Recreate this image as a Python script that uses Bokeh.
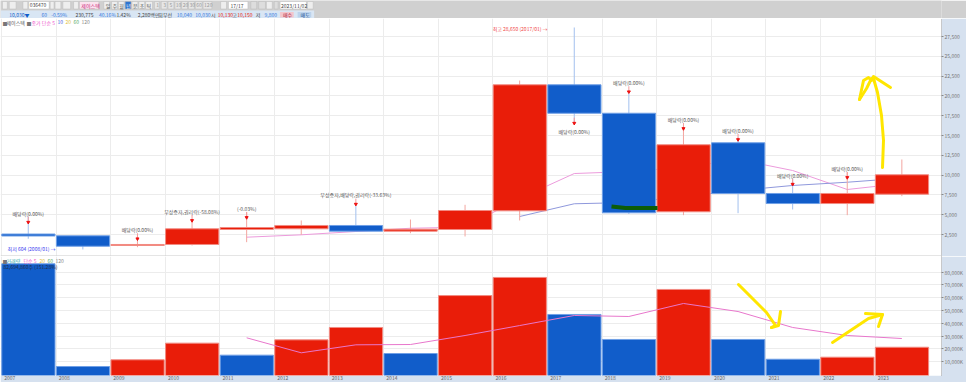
from bokeh.plotting import figure
from bokeh.layouts import column
from bokeh.models import Label, FixedTicker, Range1d, Span, Grid
from bokeh.embed import file_html
from bokeh.resources import INLINE

years = [2007,2008,2009,2010,2011,2012,2013,2014,2015,2016,2017,2018,2019,2020,2021,2022,2023]
opens  = [2560,2335,1110,1240,3130,3220,3640,2920,3130,5490,21400,17810,5370,14080,7680,6410,7590]
closes = [2310,1020,1240,3220,3380,3640,2920,3170,5530,21400,17810,5240,13830,7680,6410,7680,10040]
highs  = [4770,2335,2160,4360,5320,4270,6160,4390,6250,21940,28640,20300,16050,14750,9610,10370,11970]
lows   = [1960,610,900,1110,1530,2460,2920,2660,2250,4270,16640,5100,4940,5190,5660,4940,7340]
volumes = [86600,6100,11360,24400,15000,27000,36700,16300,61700,75900,46900,27300,66500,27300,11800,13400,21200]
vol_up = [0,0,1,1,0,1,1,0,1,1,0,0,1,0,0,1,1]
ma5_years = years[4:]
ma5_price = [2160,2460,2880,3290,3420,7050,10200,10450,10960,11970,10580,8180,8940]
ma20_years = years[9:]
ma20_price = [4770,6380,6540,7300,8050,8690,9100,9610]
ma5_volume = [28600,16850,23100,23350,30400,38200,46100,45300,55500,49200,36700,30400,28050]

notes_year = [2007,2009,2010,2011,2013,2017,2018,2019,2020,2021,2022]
notes_text = ["배당락(0.00%)","배당락(0.00%)","무상증자,권리락(-58.08%)","(-0.03%)","무상증자,배당락,권리락(-33.63%)",
              "배당락(0.00%)","배당락(0.00%)","배당락(0.00%)","배당락(0.00%)","배당락(0.00%)","배당락(0.00%)"]
notes_arrow = [4050,1960,4270,4650,6330,16550,20520,15880,14490,8850,9700]
notes_label = [5190,3090,5440,5750,7510,15540,21690,17020,15670,9990,10830]

price_ticks = [2500,5000,7500,10000,12500,15000,17500,20000,22500,25000,27500]
vol_ticks = [10000,20000,30000,40000,50000,60000,70000,80000]

RED, BLUE = "#e91d09", "#115dca"
RED_E, BLUE_E = "#f28b82", "#6f9fe6"
RED_W, BLUE_W = "#f3a6a0", "#a3c0ee"
GRID = "#ececec"
AXBG = "#d6e1ef"
FONT = "Noto Sans CJK KR"
FS = "5px"

X0, XS = 1.0, 54.6
W, RIGHT = 966, 941
xlo, xhi = (0 - X0) / XS, (RIGHT - X0) / XS
idx = [y - 2007 for y in years]
CEN = 0.49
cen = [i + CEN for i in idx]

# reference-pixel helpers for the annotation layer (hand-drawn strokes, captions)
def px(x): return (x - X0) / XS
def py(y): return (253.8 - y) / 0.00792
def vy(y): return (373.8 - y) / 1.276 * 1000

def make_panel(height, ylo, yhi, ticks, fmt):
    p = figure(frame_width=RIGHT, frame_height=height, x_range=Range1d(xlo, xhi), y_range=Range1d(ylo, yhi),
               output_backend="svg", toolbar_location=None, min_border=0, min_border_right=W-RIGHT,
               border_fill_color=AXBG, background_fill_color="white", outline_line_color=None,
               y_axis_location="right", x_axis_location="below")
    p.grid.visible = False
    p.add_layout(Grid(dimension=1, ticker=FixedTicker(ticks=ticks), grid_line_color=GRID, grid_line_width=1), "center")
    p.add_layout(Grid(dimension=0, ticker=FixedTicker(ticks=idx), grid_line_color=GRID, grid_line_width=1), "center")
    ax = p.yaxis[0]
    ax.ticker = FixedTicker(ticks=ticks)
    ax.major_label_overrides = {t: fmt(t) for t in ticks}
    ax.major_label_text_font = FONT
    ax.major_label_text_font_size = FS
    ax.major_label_text_color = "#777777"
    ax.major_label_standoff = 1
    ax.major_tick_in = 0
    ax.major_tick_out = 2
    ax.major_tick_line_color = "#888888"
    ax.minor_tick_line_color = None
    ax.axis_line_color = "#999999"
    ax.axis_line_dash = "1 1"
    return p

def lab(p, x, y, text, color="#555555", size=FS, align="left", **kw):
    p.add_layout(Label(x=x, y=y, text=text, text_color=color, text_font=FONT, text_font_size=size,
                       text_align=align, text_baseline="middle", **kw))

# ---------- header ----------
h = figure(width=W, height=18, x_range=Range1d(0, W), y_range=Range1d(18, 0), output_backend="svg",
           toolbar_location=None, min_border=0, border_fill_color="#d0d0d0", background_fill_color="#d0d0d0",
           outline_line_color=None, x_axis_location=None, y_axis_location=None)
h.grid.visible = False
h.quad(left=[0], right=[322], top=[10], bottom=[18], fill_color="#d9e6f4", line_color=None)
boxes = [(2,7,"#eeeeee"),(9,16,"#eeeeee"),(23,28,"#eeeeee"),(29,50,"white"),(51,55,"#eeeeee"),(56,62,"#eeeeee"),
         (64,72,"#eeeeee"),(75,80,"#eeeeee"),(81,101,"#fbe3ef"),(106,112,"#eeeeee"),(114,120,"#eeeeee"),(121,127,"#eeeeee"),
         (128,134,"#2f74d0"),(135,141,"#eeeeee"),(142,148,"#eeeeee"),(149,156,"#eeeeee"),
         (158,163,"#e6e6e6"),(165,171,"#e6e6e6"),(172,178,"#e6e6e6"),(179,185,"#e6e6e6"),(186,192,"#e6e6e6"),(193,199,"#e6e6e6"),
         (200,207,"#e6e6e6"),(208,217,"#e6e6e6"),(226,232,"#eeeeee"),(234,254,"white"),(257,263,"#dddddd"),(265,272,"#dddddd"),
         (273,279,"#eeeeee"),(281,285,"#dddddd"),(287,314,"white"),(315,321,"#eeeeee")]
h.quad(left=[b[0] for b in boxes], right=[b[1] for b in boxes], top=[1]*len(boxes), bottom=[8.5]*len(boxes),
       fill_color=[b[2] for b in boxes], line_color="#bbbbbb", line_width=0.5)
h.quad(left=[287,305], right=[301,319], top=[11.5,11.5], bottom=[17,17], fill_color=["#f3c6cc","#bcd3ec"], line_color=None)
row1 = [(30,"036470","#444444"),(83,"제이스텍","#cc2277"),(108,"일","#555555"),(115,"주","#555555"),(122,"월","#555555"),
        (129,"년","white"),(136,"분","#555555"),(143,"초","#555555"),(150,"틱","#555555"),(160,"1","#999999"),(167,"3","#999999"),
        (173.5,"5","#999999"),(180,"10","#999999"),(187,"20","#999999"),(194,"30","#999999"),(201,"60","#999999"),(209,"120","#999999"),
        (236,"17/17","#444444"),(288,"2023/11/02","#444444")]
for x, t, c in row1:
    lab(h, x, 4.5, t, c)
row2 = [(9,"10,030▼",BLUE),(42,"60","#3377dd"),(52,"-0.59%","#3377dd"),(77,"230,775","#444444"),(101,"40.16%","#3377dd"),
        (119,"1.42%","#444444"),(141,"2,280백만","#444444"),(162,"회무선","#444444"),(181,"10,040","#3377dd"),(200,"10,030","#3377dd"),
        (216,"시","#444444"),(223,"10,130",RED),(238,"고","#444444"),(243,"10,150",RED),(262,"저","#444444"),(271,"9,800","#3377dd"),
        (290,"매수","#b02040"),(308,"매도","#205090")]
for x, t, c in row2:
    lab(h, x, 14, t, c)

# ---------- price panel ----------
plo, phi = py(256), py(18)
p = make_panel(238, plo, phi, price_ticks, lambda t: f"{t:,}")
p.xaxis.visible = False

p.line([y - 2007 + CEN for y in ma5_years], ma5_price, line_color="#ec9bdc", line_width=1)
p.line([y - 2007 + CEN for y in ma20_years], ma20_price, line_color="#8f98dc", line_width=1)

up = [c >= o for o, c in zip(opens, closes)]
p.segment(cen, lows, cen, highs, line_color=[RED_W if u else BLUE_W for u in up], line_width=1)
p.quad(left=[i + 0.005 for i in idx], right=[i + 0.98 for i in idx],
       top=[max(o, c) for o, c in zip(opens, closes)], bottom=[min(o, c) for o, c in zip(opens, closes)],
       fill_color=[RED if u else BLUE for u in up], line_color=[RED_E if u else BLUE_E for u in up], line_width=1)

nc = [y - 2007 + CEN for y in notes_year]
p.segment(nc, notes_arrow, nc, [a + 700 for a in notes_arrow], line_color="#f39a9a", line_width=1)
p.scatter(nc, notes_arrow, marker="inverted_triangle", size=3, fill_color="#ee1111", line_color="#ee1111")
for x, val, t in zip(nc, notes_label, notes_text):
    lab(p, x, val, t, "#555555", FS, "center")

lab(p, px(547), 28470, "최고 28,650 (2017/01) →", "#f04848", FS, "right")
lab(p, px(55), 730, "최저 604 (2008/01) →", "#3a3af0", FS, "right")

# dark-green marker stroke and yellow pen strokes
p.line([px(x) for x in (611, 625, 657)], [py(y) for y in (206, 207.5, 207.5)], line_color="#0c5c08", line_width=4)
p.multi_line([[px(x) for x in s] for s in [(882, 883, 881, 877, 873), (859, 863, 868, 871, 873, 890), (859, 866, 871)]],
             [[py(y) for y in s] for s in [(167, 140, 115, 92, 78), (99, 80, 77, 80, 76, 87), (99, 88, 78)]],
             line_color="#ffe600", line_width=3, line_cap="round", line_join="round")

for x, t, c in [(2,"■","#777777"),(6,"제이스텍","#555555"),(26,"■","#777777"),(31,"종가 단순 5","#ee55cc"),(57,"10","#3a55dd"),(65,"20","#e0c040"),(73,"60","#55aa66"),(81,"120","#888888")]:
    lab(p, px(x), py(21.5), t, c)
lab(p, px(941.5), py(20.5), "LC:1398.31", "#e05555")
lab(p, px(941.5), py(26), "HC:-64.09", "#4a80e0")
lab(p, px(946), 10030, "10,030", "white", FS, background_fill_color=RED, padding=(1, 3))
lab(p, px(944), py(179), "29.58%", "#f07070")
p.add_layout(Span(location=plo, dimension="width", line_color="#cccccc", line_width=2))

# ---------- volume panel ----------
vlo, vhi = vy(375), vy(256)
v = make_panel(119, vlo, vhi, vol_ticks, lambda t: f"{t:,}K")
v.quad(left=[i + 0.005 for i in idx], right=[i + 0.98 for i in idx], top=volumes, bottom=[vlo]*len(volumes),
       fill_color=[RED if u else BLUE for u in vol_up], line_color=[RED_E if u else BLUE_E for u in vol_up], line_width=1)
v.line([y - 2007 + CEN for y in ma5_years], ma5_volume, line_color="#e877cc", line_width=1)
v.multi_line([[px(x) for x in s] for s in [(738, 752, 766, 775, 771), (780, 778, 771), (832, 850, 868, 882), (865, 882, 878)]],
             [[vy(y) for y in s] for s in [(284, 298, 312, 325, 327), (311, 325, 327), (342, 330, 318, 314), (313, 314, 326)]],
             line_color="#ffe600", line_width=3, line_cap="round", line_join="round")
xa = v.xaxis[0]
xa.ticker = FixedTicker(ticks=[i + 0.15 for i in idx])
xa.major_label_overrides = {i + 0.15: str(y) for i, y in zip(idx, years)}
xa.major_label_text_font = FONT
xa.major_label_text_font_size = FS
xa.major_label_text_color = "#666666"
xa.major_label_standoff = 0
xa.major_tick_in = 0
xa.major_tick_out = 0
xa.minor_tick_line_color = None
xa.axis_line_color = None
for x, t, c in [(2,"■","#777777"),(6,"거래량","#33aaaa"),(23,"단순 5","#ee55cc"),(39,"20","#e0c040"),(47,"60","#55aa66"),(55,"120","#888888")]:
    lab(v, px(x), vy(260), t, c)
lab(v, px(3), vy(265.5), "82,694,860주 (151.28%)", "#22304a")
lab(v, px(946), vy(346), "22,028K", "white", FS, background_fill_color=RED, padding=(1, 3))
lab(v, px(944), vy(351.5), "151.28%", "#f07070")
lab(v, px(944), vy(378.5), "01/02", "#666666")

page = column(h, p, v, spacing=0)
html = file_html(page, INLINE).replace("<head>", "<head><style>html,body{margin:0;padding:0;overflow:hidden}</style>", 1)
open("out.html", "w").write(html)
